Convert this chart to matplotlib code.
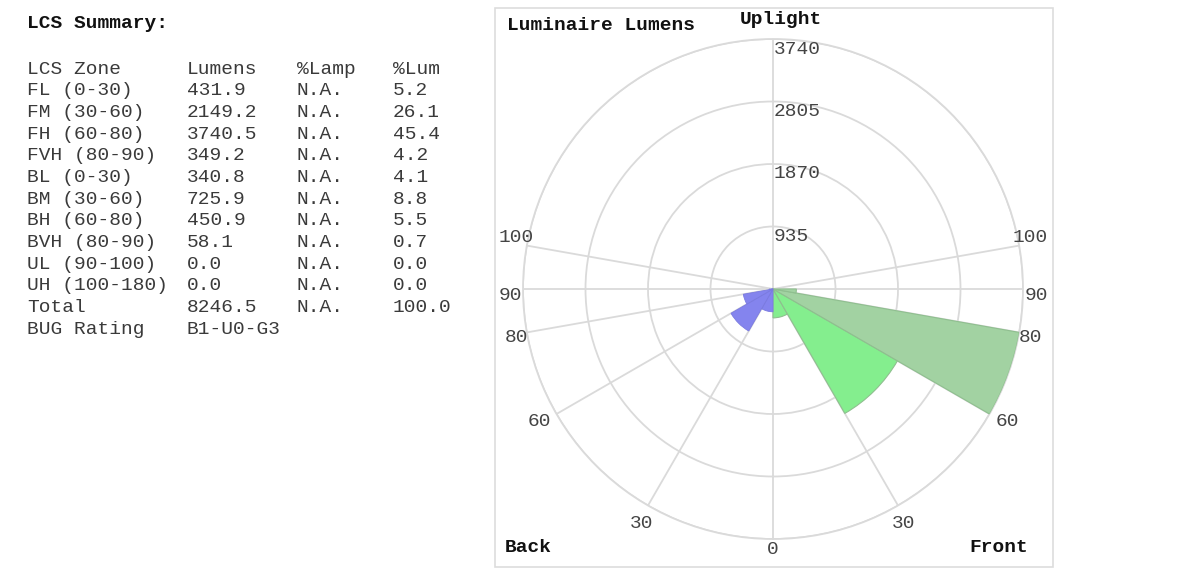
import numpy as np
import matplotlib
matplotlib.use("Agg")
import matplotlib.pyplot as plt
from matplotlib.patches import Rectangle

W, H = 1177, 571
mono = "Liberation Mono"

# LCS summary table
zones = ["FL (0-30)", "FM (30-60)", "FH (60-80)", "FVH (80-90)",
         "BL (0-30)", "BM (30-60)", "BH (60-80)", "BVH (80-90)",
         "UL (90-100)", "UH (100-180)"]
lumens = [431.9, 2149.2, 3740.5, 349.2, 340.8, 725.9, 450.9, 58.1, 0.0, 0.0]
pct_lum = [5.2, 26.1, 45.4, 4.2, 4.1, 8.8, 5.5, 0.7, 0.0, 0.0]
total_lumens = 8246.5
bug_rating = "B1-U0-G3"

# zone angle ranges (degrees from nadir)
zone_start = [0, 30, 60, 80]
zone_width = [30, 30, 20, 10]
front_lm = lumens[0:4]
back_lm = lumens[4:8]
front_colors = ["#84ee8e", "#84ee8e", "#a2d2a2", "#a2d2a2"]
back_colors = ["#8484ee", "#8484ee", "#8484ee", "#8484ee"]

ring_values = [935, 1870, 2805, 3740]
angle_ticks = [0, 30, 60, 80, 90, 100]

fig = plt.figure(figsize=(W / 100, H / 100), dpi=100)
fig.patch.set_facecolor("white")


def px(x, y):
    return x / W, 1 - y / H


# ---- left: text table ----
txt_color = "#3a3a3a"
fig.text(*px(27, 24), "LCS Summary:", family=mono, weight="bold",
         fontsize=14, va="center", ha="left", color="#111111")

cols = [27, 187, 297, 393]
row_y0, row_dy = 69, 21.7
rows = [["LCS Zone", "Lumens", "%Lamp", "%Lum"]]
for z, lm, p in zip(zones, lumens, pct_lum):
    rows.append([z, f"{lm:.1f}", "N.A.", f"{p:.1f}"])
rows.append(["Total", f"{total_lumens:.1f}", "N.A.", f"{sum(pct_lum):.1f}"])
rows.append(["BUG Rating", bug_rating, "", ""])
for i, row in enumerate(rows):
    for x, cell in zip(cols, row):
        fig.text(*px(x, row_y0 + i * row_dy), cell, family=mono,
                 fontsize=14, va="center", ha="left", color=txt_color)

# ---- right: polar lumen plot ----
cx, cy, R = 773, 289, 250
ax = fig.add_axes([(cx - R) / W, (H - cy - R) / H, 2 * R / W, 2 * R / H],
                  projection="polar")
ax.set_theta_zero_location("S")
ax.set_theta_direction(1)
ax.set_ylim(0, ring_values[-1])
ax.set_facecolor("none")

grid_c = "#dadada"
ax.set_rgrids(ring_values, labels=[""] * len(ring_values))
tg = sorted(set([a % 360 for a in angle_ticks] + [(-a) % 360 for a in angle_ticks] + [180]))
ax.set_thetagrids(tg, labels=[""] * len(tg))
ax.grid(True, color=grid_c, lw=1.3)
ax.spines["polar"].set_color(grid_c)
ax.spines["polar"].set_linewidth(1.3)
ax.tick_params(length=0)

# front wedges go right, back wedges go left
ax.bar(np.radians(zone_start), front_lm, width=np.radians(zone_width),
       align="edge", color=front_colors, edgecolor="#8fbf8f", lw=0.8, zorder=3)
ax.bar(-np.radians(zone_start), back_lm, width=-np.radians(zone_width),
       align="edge", color=back_colors, edgecolor="#7a7ae0", lw=0.6, zorder=3)

lab_c = "#444444"
for v in ring_values:
    ax.annotate(str(v), xy=(np.pi, v), xytext=(1, -10), textcoords="offset pixels",
                family=mono, fontsize=14, color=lab_c, ha="left", va="center")

# angle labels sit just outside the rim, offsets in pixels from the centre
label_offset = {0: (0, 261), 30: (131, 234), 60: (234, 133),
                80: (257, 49), 90: (263, 6), 100: (257, -51)}
for a in angle_ticks:
    dx, dy = label_offset[a]
    for s in ((1,) if a == 0 else (1, -1)):
        ax.annotate(str(a), xy=(0, 0), xytext=(s * dx, -dy), textcoords="offset pixels",
                    family=mono, fontsize=14, color=lab_c, ha="center", va="center",
                    annotation_clip=False)

# frame and captions
fig.patches.append(Rectangle(px(495, 567), 558 / W, 559 / H, transform=fig.transFigure,
                             fill=False, edgecolor="#dddddd", lw=1.2))
fig.text(*px(507, 26), "Luminaire Lumens", family=mono, weight="bold",
         fontsize=14, va="center", ha="left", color="#111111")
fig.text(*px(740, 19), "Uplight", family=mono, weight="bold",
         fontsize=14, va="center", ha="left", color="#111111")
fig.text(*px(505, 548), "Back", family=mono, weight="bold",
         fontsize=14, va="center", ha="left", color="#111111")
fig.text(*px(1028, 548), "Front", family=mono, weight="bold",
         fontsize=14, va="center", ha="right", color="#111111")

fig.savefig("out.png", dpi=100, facecolor="white")
